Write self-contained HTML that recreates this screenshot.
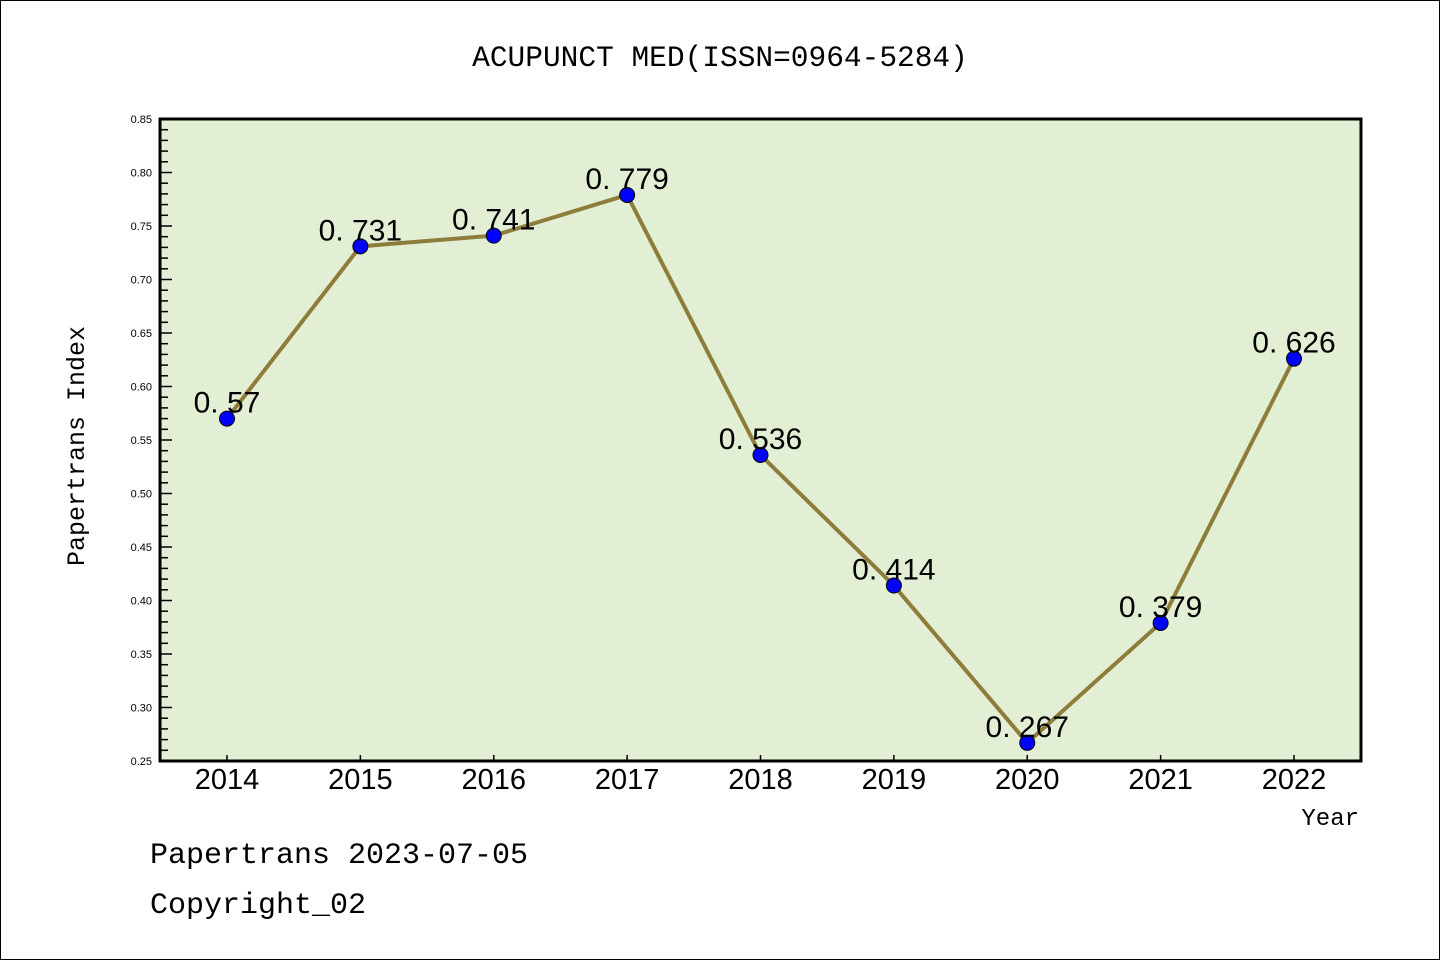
<!DOCTYPE html>
<html><head><meta charset="utf-8"><style>
body{margin:0;background:#fff;}
svg{display:block;font-family:"Liberation Sans","Noto Sans CJK SC",sans-serif;}
</style></head><body>
<svg id="chart" width="1440" height="960" xmlns="http://www.w3.org/2000/svg">
<rect x="0.5" y="0.5" width="1439" height="959" fill="#fff" stroke="#000"/>
<text x="720" y="66" text-anchor="middle" font-size="29.5" font-family="Liberation Mono, monospace">ACUPUNCT MED(ISSN=0964-5284)</text>
<rect x="160" y="119" width="1201" height="642" fill="#e2efd5"/>
<g id="yaxis"></g>
<g id="xaxis"></g>
<g id="series"></g>
<rect x="160" y="119" width="1201" height="642" fill="none" stroke="#000" stroke-width="3"/>
<text transform="translate(84,446) rotate(-90)" text-anchor="middle" font-size="25" font-family="Liberation Mono, monospace">Papertrans Index</text>
<text x="1359" y="825" text-anchor="end" font-size="24" font-family="Liberation Mono, monospace">Year</text>
<text x="150" y="863" font-size="30" font-family="Liberation Mono, monospace">Papertrans 2023-07-05</text>
<text x="150" y="913" font-size="30" font-family="Liberation Mono, monospace">Copyright_02</text>
</svg>
<script>
const years=["2014","2015","2016","2017","2018","2019","2020","2021","2022"];
const values=[0.57,0.731,0.741,0.779,0.536,0.414,0.267,0.379,0.626];
const labels=["0.57","0.731","0.741","0.779","0.536","0.414","0.267","0.379","0.626"];
const yTicks=["0.25","0.30","0.35","0.40","0.45","0.50","0.55","0.60","0.65","0.70","0.75","0.80","0.85"];
const NS="http://www.w3.org/2000/svg";
const yMin=0.25,yMax=0.85,plotTop=119,plotBot=761,plotLeft=160;
const yS=v=>plotBot-(v-yMin)/(yMax-yMin)*(plotBot-plotTop);
const xS=i=>227+i*(1294-227)/(years.length-1);
function mk(t,a,p){const e=document.createElementNS(NS,t);for(const k in a)e.setAttribute(k,a[k]);p.appendChild(e);return e;}
const ya=document.getElementById('yaxis');
for(let k=0;k<=60;k++){const v=yMin+k*0.01;const major=k%5===0;
 const l=mk('line',{x1:plotLeft,x2:plotLeft+(major?12:8),y1:yS(v),y2:yS(v),stroke:'#000','stroke-width':1.5},ya);
 
 }
yTicks.forEach(t=>{const e=mk('text',{x:152,y:yS(parseFloat(t))+4,'text-anchor':'end','font-size':11},ya);e.textContent=t;
 
 });
const xa=document.getElementById('xaxis');
years.forEach((yr,i)=>{const l=mk('line',{x1:xS(i),x2:xS(i),y1:plotBot,y2:plotBot-6,stroke:'#000','stroke-width':1.5},xa);
 
 
 const t=mk('text',{x:xS(i),y:789,'text-anchor':'middle','font-size':29},xa);t.textContent=yr;
 
 });
const s=document.getElementById('series');
const pl=mk('polyline',{points:values.map((v,i)=>xS(i)+','+yS(v)).join(' '),fill:'none',stroke:'#8e7d3a','stroke-width':4,'stroke-linejoin':'round'},s);


values.forEach((v,i)=>{const c=mk('circle',{cx:xS(i),cy:yS(v),r:7.5,fill:'#0000ff',stroke:'#000','stroke-width':1},s);
 
 
 const t=mk('text',{x:xS(i),y:yS(v)-6,'text-anchor':'middle','font-size':30},s);
 t.textContent=labels[i].replace('.','. ');
 
 });
</script>
</body></html>
